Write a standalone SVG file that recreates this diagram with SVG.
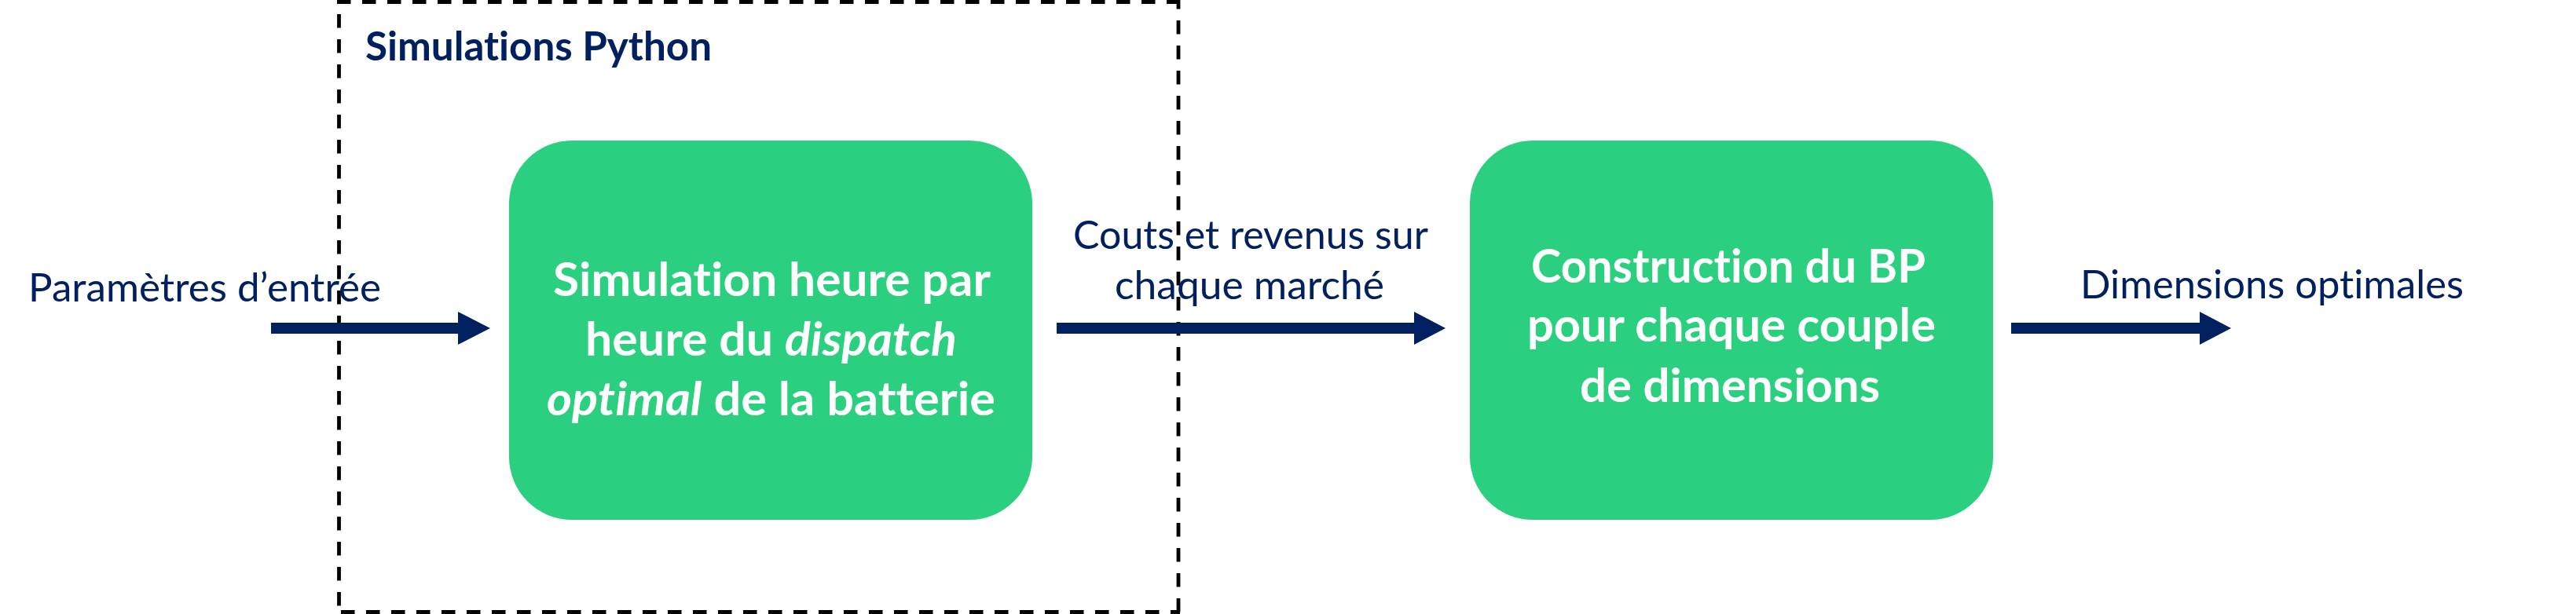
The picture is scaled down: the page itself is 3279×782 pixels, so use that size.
<svg xmlns="http://www.w3.org/2000/svg" width="3279" height="782" viewBox="0 0 3279 782">
<defs>
<style>
text{font-variant-ligatures:none;}
.box{fill:#2ACF7F;}
.lbl{font-family:Lato,"Open Sans","Liberation Sans",sans-serif;fill:#002060;font-size:50px;}
.btxt{font-family:Lato,"Open Sans","Liberation Sans",sans-serif;fill:#FFFFFF;font-size:59px;font-weight:bold;}
.title{font-family:Lato,"Open Sans","Liberation Sans",sans-serif;fill:#002060;font-size:52px;font-weight:bold;}
.dash{stroke:#000000;stroke-width:4.8;fill:none;stroke-dasharray:17.5 14.5;}
.arrow{fill:#002060;}
</style>
</defs>
<rect width="3279" height="782" fill="#FFFFFF"/>

<g id="group-python">
<line class="dash" x1="429" y1="2.5" x2="1502" y2="2.5"/>
<line class="dash" x1="429" y1="779.5" x2="1502" y2="779.5" stroke-dashoffset="-5"/>
<line class="dash" x1="431.5" y1="0" x2="431.5" y2="782" stroke-dashoffset="14"/>
<line class="dash" x1="1500" y1="0" x2="1500" y2="782" stroke-dashoffset="6"/>
<text class="title" x="465" y="77" textLength="441" lengthAdjust="spacingAndGlyphs">Simulations Python</text>
</g>

<g id="node-simulation">
<rect class="box" x="648" y="179" width="666" height="483" rx="80" ry="80"/>
<text class="btxt" x="704" y="377" textLength="557" lengthAdjust="spacingAndGlyphs">Simulation heure par</text>
<text class="btxt" x="745" y="453" textLength="473" lengthAdjust="spacingAndGlyphs">heure du <tspan font-style="italic">dispatch</tspan></text>
<text class="btxt" x="696" y="529" textLength="571" lengthAdjust="spacingAndGlyphs"><tspan font-style="italic">optimal</tspan> de la batterie</text>
</g>

<g id="node-bp">
<rect class="box" x="1871" y="179" width="666" height="483" rx="80" ry="80"/>
<text class="btxt" x="1949" y="360" textLength="502" lengthAdjust="spacingAndGlyphs">Construction du BP</text>
<text class="btxt" x="1944" y="435" textLength="520" lengthAdjust="spacingAndGlyphs">pour chaque couple</text>
<text class="btxt" x="2011" y="512" textLength="382" lengthAdjust="spacingAndGlyphs">de dimensions</text>
</g>

<g id="connectors">
<polygon class="arrow" points="345,411 583,411 583,397 624,418 583,439 583,425 345,425"/>
<polygon class="arrow" points="1345,411 1800,411 1800,397 1840,418 1800,439 1800,425 1345,425"/>
<polygon class="arrow" points="2560,411 2800,411 2800,397 2840,418 2800,439 2800,425 2560,425"/>
<text class="lbl" x="36" y="384" textLength="449" lengthAdjust="spacingAndGlyphs">Paramètres d’entrée</text>
<text class="lbl" x="1366" y="317" textLength="452" lengthAdjust="spacingAndGlyphs">Couts et revenus sur</text>
<text class="lbl" x="1419" y="381" textLength="343" lengthAdjust="spacingAndGlyphs">chaque marché</text>
<text class="lbl" x="2648" y="380" textLength="488" lengthAdjust="spacingAndGlyphs">Dimensions optimales</text>
</g>
</svg>
